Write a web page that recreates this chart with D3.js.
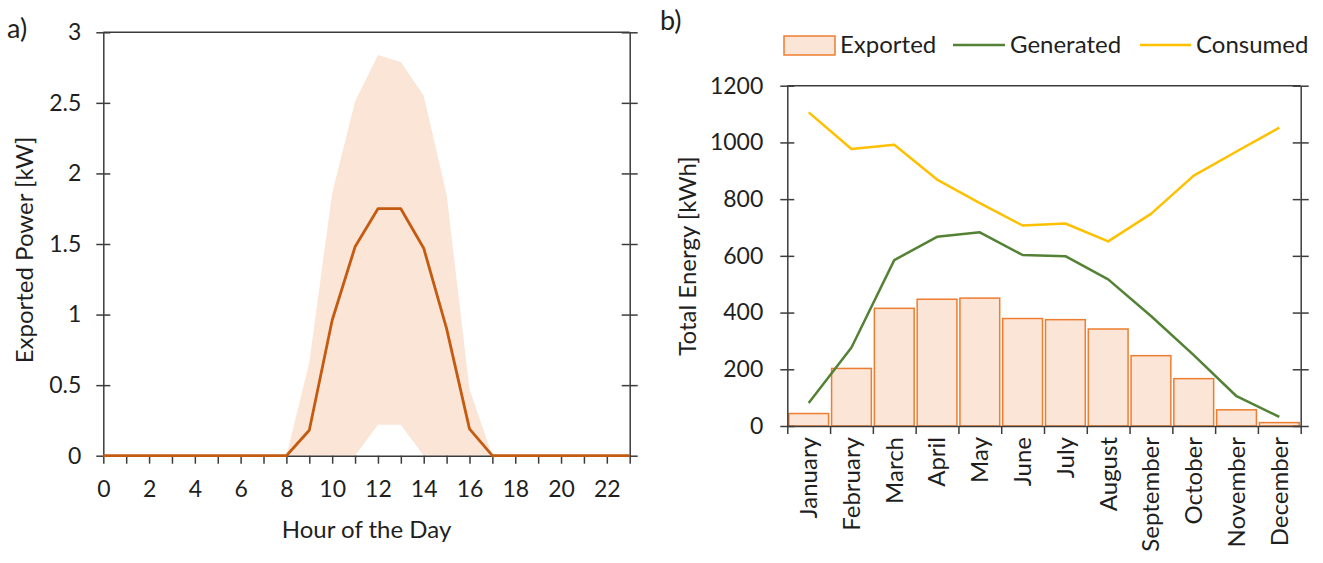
<!DOCTYPE html>
<html>
<head>
<meta charset="utf-8">
<script src="https://cdn.jsdelivr.net/npm/d3@7"></script>
<style>
  body { margin: 0; background: #fff; }
  svg { display: block; font-family: Lato, "Open Sans", sans-serif; }
</style>
</head>
<body>
<svg id="chart" width="1323" height="563"></svg>
<script>
// ---- Panel a: hourly exported power (mean with min/max envelope) ----
const hours = [0, 1, 2, 3, 4, 5, 6, 7, 8, 9, 10, 11, 12, 13, 14, 15, 16, 17, 18, 19, 20, 21, 22, 23];
const hourLabels = [0, 2, 4, 6, 8, 10, 12, 14, 16, 18, 20, 22];
const meanExport  = [0, 0, 0, 0, 0, 0, 0, 0, 0, 0.18, 0.96, 1.48, 1.75, 1.75, 1.47, 0.90, 0.19, 0, 0, 0, 0, 0, 0, 0];
const upperExport = [0, 0, 0, 0, 0, 0, 0, 0, 0, 0.66, 1.86, 2.51, 2.84, 2.79, 2.55, 1.85, 0.47, 0, 0, 0, 0, 0, 0, 0];
const lowerExport = [0, 0, 0, 0, 0, 0, 0, 0, 0, 0, 0, 0, 0.22, 0.22, 0, 0, 0, 0, 0, 0, 0, 0, 0, 0];
const powerTicks = [0, 0.5, 1, 1.5, 2, 2.5, 3];

// ---- Panel b: monthly energy totals ----
const months = ["January", "February", "March", "April", "May", "June", "July",
                "August", "September", "October", "November", "December"];
const exported  = [44, 203, 415, 447, 451, 379, 375, 342, 248, 167, 57, 12];
const generated = [81, 277, 585, 667, 683, 603, 599, 517, 388, 250, 105, 32];
const consumed  = [1106, 977, 992, 869, 786, 707, 714, 651, 748, 883, 968, 1052];
const energyTicks = [0, 200, 400, 600, 800, 1000, 1200];
const legendItems = ["Exported", "Generated", "Consumed"];

const AXIS = "#3c3c3c";
const TEXT = "#1f1f1f";
const BAND_FILL = "#FBE5D6";
const ORANGE_DARK = "#C55A11";
const ORANGE = "#ED7D31";
const GREEN = "#548235";
const GOLD = "#FFC000";
const TICK_FS = 23;   // numeric tick labels
const FS = 24;        // titles, months, legend
const FONT = 'Lato, "Open Sans", sans-serif';

const svg = d3.select("#chart");

function styleAxis(g, showText) {
  g.selectAll("path, line").attr("stroke", AXIS).attr("stroke-width", 1.5);
  g.selectAll("text").attr("fill", TEXT).style("font-size", TICK_FS + "px").style("font-family", FONT);
  if (!showText) g.selectAll("text").remove();
}

// Vertical axis with ticks that cross the line on both sides
function crossAxis(scale, xPos, ticks, len, withLabels, pad) {
  const left = svg.append("g").attr("transform", `translate(${xPos},0)`)
    .call(d3.axisLeft(scale).tickValues(ticks).tickSize(len).tickSizeOuter(0)
      .tickPadding(pad || 3).tickFormat(d => String(d)));
  styleAxis(left, withLabels);
  const right = svg.append("g").attr("transform", `translate(${xPos},0)`)
    .call(d3.axisRight(scale).tickValues(ticks).tickSize(len).tickSizeOuter(0).tickFormat(""));
  styleAxis(right, false);
  right.select(".domain").remove();
}

function label(x, y, text, size, rotate) {
  return svg.append("text")
    .attr("transform", `translate(${x},${y})` + (rotate ? " rotate(-90)" : ""))
    .attr("dy", "0.35em").attr("text-anchor", "middle")
    .attr("fill", TEXT).style("font-size", size + "px").text(text);
}

// ================= Panel a =================
const xa = d3.scaleLinear().domain([0, 23]).range([103.3, 629.7]);
const ya = d3.scaleLinear().domain([0, 3]).range([455.7, 32.3]);

svg.append("path")
  .datum(hours)
  .attr("fill", BAND_FILL)
  .attr("d", d3.area()
    .x((d, i) => xa(hours[i]))
    .y0((d, i) => ya(lowerExport[i]))
    .y1((d, i) => ya(upperExport[i])));

// frame top
svg.append("line").attr("x1", xa(0)).attr("x2", xa(23))
  .attr("y1", ya(3)).attr("y2", ya(3)).attr("stroke", AXIS).attr("stroke-width", 1.5);

crossAxis(ya, xa(0), powerTicks, 7, true, 15);
crossAxis(ya, xa(23), powerTicks, 8, false);

const xAxisA = svg.append("g").attr("transform", `translate(0,${ya(0)})`)
  .call(d3.axisBottom(xa).tickValues(hours).tickSize(8).tickSizeOuter(0).tickPadding(17)
    .tickFormat(d => hourLabels.includes(d) ? String(d) : ""));
styleAxis(xAxisA, true);

svg.append("path")
  .datum(hours)
  .attr("fill", "none")
  .attr("stroke", ORANGE_DARK)
  .attr("stroke-width", 2.8)
  .attr("stroke-linejoin", "round")
  .attr("d", d3.line().x((d, i) => xa(hours[i])).y((d, i) => ya(meanExport[i])));

label((xa(0) + xa(23)) / 2, 530, "Hour of the Day", FS, false);
label(25, 250, "Exported Power [kW]", FS, true);
svg.append("text").attr("x", 7).attr("y", 38).attr("fill", TEXT).style("font-size", "27px").text("a)");

// ================= Panel b =================
const xb = d3.scaleBand().domain(months).range([787.3, 1300.7]).paddingInner(0.07).paddingOuter(0.035);
const yb = d3.scaleLinear().domain([0, 1200]).range([426, 85.7]);
const cx = m => xb(m) + xb.bandwidth() / 2;

svg.append("g").selectAll("rect")
  .data(months)
  .join("rect")
  .attr("x", m => xb(m))
  .attr("width", xb.bandwidth())
  .attr("y", (m, i) => yb(exported[i]))
  .attr("height", (m, i) => yb(0) - yb(exported[i]))
  .attr("fill", BAND_FILL)
  .attr("stroke", ORANGE)
  .attr("stroke-width", 1.5);

svg.append("line").attr("x1", 787.3).attr("x2", 1300.7)
  .attr("y1", yb(1200)).attr("y2", yb(1200)).attr("stroke", AXIS).attr("stroke-width", 1.5);

crossAxis(yb, 787.3, energyTicks, 7, true, 17);
crossAxis(yb, 1300.7, energyTicks, 8, false);

// category boundaries on the month axis
const bounds = d3.scaleLinear().domain([0, months.length]).range([787.3, 1300.7]);
const xAxisB = svg.append("g").attr("transform", `translate(0,${yb(0)})`)
  .call(d3.axisBottom(bounds).tickValues(d3.range(months.length + 1)).tickSize(8).tickSizeOuter(0).tickFormat(""));
styleAxis(xAxisB, false);

const monthAxis = svg.append("g").attr("transform", `translate(0,${yb(0)})`)
  .call(d3.axisBottom(xb).tickSize(0).tickPadding(0));
monthAxis.select(".domain").remove();
monthAxis.selectAll("text")
  .attr("transform", "rotate(-90)")
  .attr("x", -11).attr("y", 0).attr("dy", "0.35em")
  .attr("text-anchor", "end")
  .attr("fill", TEXT).style("font-size", FS + "px").style("font-family", FONT);

const lineB = vals => d3.line().x(m => cx(m)).y((m, i) => yb(vals[i]));
svg.append("path").datum(months).attr("fill", "none").attr("stroke", GREEN)
  .attr("stroke-width", 2.5).attr("stroke-linejoin", "round").attr("d", lineB(generated));
svg.append("path").datum(months).attr("fill", "none").attr("stroke", GOLD)
  .attr("stroke-width", 2.5).attr("stroke-linejoin", "round").attr("d", lineB(consumed));

label(688, 256, "Total Energy [kWh]", FS, true);
svg.append("text").attr("x", 660).attr("y", 30).attr("fill", TEXT).style("font-size", "27px").text("b)");

// legend
const lg = svg.append("g").style("font-size", FS + "px");
lg.append("rect").attr("x", 784).attr("y", 36).attr("width", 51).attr("height", 19)
  .attr("fill", BAND_FILL).attr("stroke", ORANGE).attr("stroke-width", 1.5);
lg.append("text").attr("x", 840).attr("y", 45).attr("dy", "0.35em").attr("fill", TEXT).text(legendItems[0]);
lg.append("line").attr("x1", 953).attr("x2", 1005).attr("y1", 45).attr("y2", 45)
  .attr("stroke", GREEN).attr("stroke-width", 2.5);
lg.append("text").attr("x", 1010).attr("y", 45).attr("dy", "0.35em").attr("fill", TEXT).text(legendItems[1]);
lg.append("line").attr("x1", 1140).attr("x2", 1191).attr("y1", 45).attr("y2", 45)
  .attr("stroke", GOLD).attr("stroke-width", 2.5);
lg.append("text").attr("x", 1196).attr("y", 45).attr("dy", "0.35em").attr("fill", TEXT).text(legendItems[2]);
</script>
</body>
</html>
